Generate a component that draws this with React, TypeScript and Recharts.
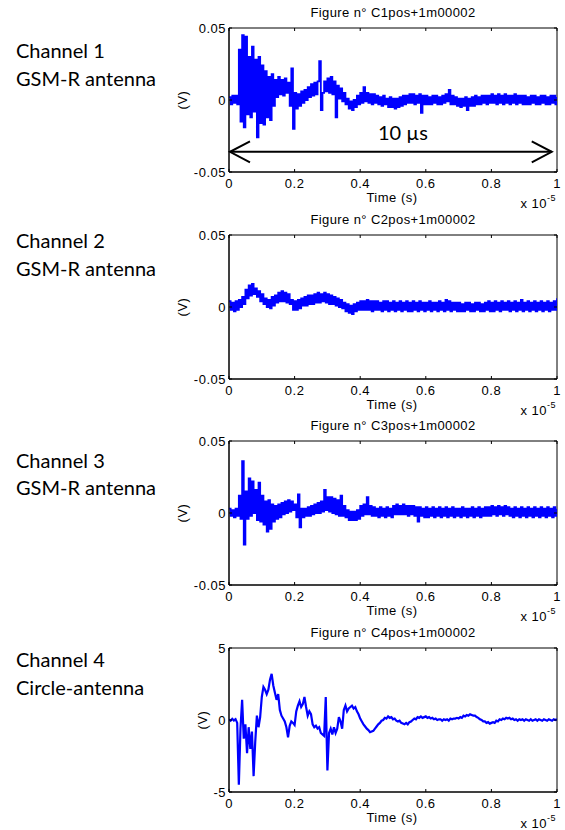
import React from 'react';
import { LineChart, Line, XAxis, YAxis, ReferenceLine, ReferenceArea } from 'recharts';

// time axis in units of 1e-5 s, one sample every TIME_STEP
const TIME_STEP = 0.005;
const X_TICKS = [0, 0.2, 0.4, 0.6, 0.8, 1];
const X_TICK_LABELS = ['0', '0.2', '0.4', '0.6', '0.8', '1'];
const Y_TICKS_SMALL = [-0.05, 0, 0.05];
const Y_TICK_LABELS_SMALL = ['-0.05', '0', '0.05'];
const Y_TICKS_LARGE = [-5, 0, 5];
const Y_TICK_LABELS_LARGE = ['-5', '0', '5'];

const TITLES = ['Figure n° C1pos+1m00002', 'Figure n° C2pos+1m00002', 'Figure n° C3pos+1m00002', 'Figure n° C4pos+1m00002'];
const CHANNEL_NAMES = ['Channel 1', 'Channel 2', 'Channel 3', 'Channel 4'];
const ANTENNA_NAMES = ['GSM-R antenna', 'GSM-R antenna', 'GSM-R antenna', 'Circle-antenna'];

const ARROW_SPAN = [0.003, 0.984];
const ARROW_LEVEL = -0.036;
const ARROW_TEXT = '10 µs';

const CH1_VOLTS = [
  .002,-.003,.003,-.002,.003,-.003,.035,-.015,.045,-.019,
  .044,-.010,.030,-.012,.037,-.008,.028,-.026,.030,-.016,
  .024,-.017,.020,-.012,.016,-.014,.018,-.004,.014,.002,
  .016,.004,.014,.003,.015,.005,.012,-.004,.022,-.020,
  .005,-.006,.004,-.004,.006,-.002,.007,.000,.009,.002,
  .011,.003,.012,.004,.013,.027,-.007,.005,.013,.006,
  .015,.005,.016,.004,.013,-.012,.010,.001,.008,-.001,
  .005,-.003,.001,-.006,-.001,-.007,.000,-.005,.003,-.003,
  .005,-.002,.009,-.001,.005,-.002,.004,-.003,.004,-.002,
  .003,-.003,.002,-.004,.003,-.003,.001,-.005,.002,-.005,
  .001,-.006,.001,-.005,.002,-.004,.003,-.003,.003,-.002,
  .004,-.002,.004,-.003,.003,-.002,.004,-.009,.003,-.003,
  .003,-.003,.002,-.003,.003,-.002,.003,-.003,.002,-.003,
  .003,-.002,.004,-.001,.007,-.003,.003,-.003,.002,-.004,
  .001,-.005,.001,-.004,.002,-.007,.001,-.004,.002,-.004,
  .003,-.003,.002,-.003,.003,-.002,.003,-.003,.003,-.002,
  .004,-.002,.003,-.003,.004,-.002,.003,-.003,.004,-.002,
  .003,-.003,.003,-.002,.004,-.003,.003,-.002,.003,-.003,
  .003,-.003,.002,-.003,.003,-.002,.003,-.003,.002,-.003,
  .003,-.002,.003,-.003,.002,-.003,.003,-.002,.003,-.003,.002,
];

const CH2_VOLTS = [
  .004,-.002,.003,-.003,.004,-.002,.005,.000,.007,.002,
  .012,.006,.015,.008,.016,.009,.013,.007,.011,.004,
  .009,.002,.006,.000,.005,-.001,.007,.001,.008,.003,
  .010,.004,.011,.004,.010,.003,.009,.002,.005,-.002,
  .004,-.002,.005,-.001,.006,.001,.007,.001,.008,.002,
  .008,.002,.009,.003,.010,.003,.009,.004,.010,.003,
  .009,.002,.008,.002,.007,.001,.006,.000,.005,-.001,
  .003,-.003,.002,-.004,.001,-.005,.002,-.003,.003,-.002,
  .004,-.002,.004,-.002,.005,-.002,.004,-.003,.004,-.002,
  .004,-.002,.003,-.003,.004,-.002,.004,-.003,.003,-.002,
  .004,-.003,.003,-.002,.004,-.003,.003,-.002,.004,-.003,
  .003,-.003,.004,-.002,.003,-.003,.004,-.002,.003,-.003,
  .003,-.002,.004,-.003,.003,-.002,.003,-.003,.004,-.002,
  .003,-.003,.005,-.002,.004,-.003,.003,-.002,.003,-.003,
  .003,-.003,.002,-.003,.003,-.002,.003,-.003,.002,-.003,
  .003,-.002,.003,-.003,.002,-.003,.003,-.002,.004,-.003,
  .003,-.003,.004,-.002,.003,-.003,.004,-.002,.003,-.002,
  .004,-.003,.003,-.002,.004,-.003,.003,-.002,.005,-.003,
  .003,-.002,.004,-.003,.003,-.002,.004,-.003,.003,-.002,
  .004,-.003,.003,-.002,.004,-.003,.003,-.002,.004,-.002,.006,
];

const CH3_VOLTS = [
  .003,-.002,.002,-.003,.003,-.002,.012,-.004,.036,-.022,
  .015,-.004,.024,-.002,.022,.000,.016,-.005,.021,-.006,
  .012,-.008,.008,-.013,.009,-.011,.006,-.006,.005,-.004,
  .006,-.003,.007,-.001,.008,.000,.009,.001,.008,.002,
  .006,-.003,.013,-.010,.003,-.003,.003,-.002,.004,-.002,
  .005,-.001,.006,.000,.007,.000,.008,.001,.016,.002,
  .011,.001,.011,.000,.010,-.001,.009,-.002,.012,-.002,
  .005,-.003,.002,-.005,.001,-.005,.001,-.005,.002,-.004,
  .005,-.002,.006,-.001,.011,-.001,.005,-.002,.004,-.002,
  .003,-.003,.004,-.002,.003,-.003,.004,-.002,.003,-.003,
  .005,-.001,.006,-.001,.005,-.001,.006,-.001,.005,-.002,
  .005,-.001,.005,-.002,.004,-.006,.004,-.002,.003,-.003,
  .004,-.003,.003,-.002,.004,-.003,.003,-.002,.004,-.003,
  .003,-.002,.004,-.003,.003,-.002,.004,-.003,.003,-.002,
  .003,-.003,.004,-.002,.003,-.003,.003,-.002,.004,-.003,
  .003,-.002,.004,-.003,.003,-.002,.004,-.002,.004,-.002,
  .005,-.001,.004,-.002,.005,-.001,.004,-.002,.005,-.001,
  .004,-.002,.003,-.003,.004,-.002,.003,-.003,.004,-.002,
  .003,-.003,.004,-.002,.003,-.003,.004,-.002,.003,-.003,
  .004,-.002,.003,-.003,.004,-.002,.003,-.003,.004,-.002,.003,
];

const CH4_VOLTS = [
  .05,-.05,.08,-.03,.06,-.2,-4.5,-.6,1.4,-1.3,
  -.3,-2.3,-.5,-2.0,-.8,-3.9,-1.5,.3,-.5,.2,
  1.6,2.3,2.1,1.8,2.1,2.8,3.2,2.4,1.9,1.4,
  1.8,.7,.3,.1,-.1,-.5,-1.2,-.4,-.1,-.2,
  -.35,.6,1.0,1.3,.9,1.1,1.6,.9,.3,.6,
  .4,-.3,-.5,-.4,-.6,-.5,-.9,-1.0,-1.1,1.6,
  -3.5,-.9,-.6,-1.0,-.5,-.9,-.6,.2,-.1,-.6,
  .7,1.0,.6,.8,.9,1.0,.8,.9,.6,.4,
  .1,-.1,-.3,-.45,-.6,-.7,-.85,-.8,-.75,-.6,
  -.45,-.3,-.2,-.05,.0,.15,.1,.25,.15,.2,
  .05,.1,-.05,-.1,-.05,-.2,-.25,-.3,-.2,-.3,
  -.15,-.1,.0,.1,.05,.2,.15,.25,.15,.2,
  .25,.15,.2,.1,.15,.05,.1,.0,.05,.05,
  -.05,.05,.0,.05,-.05,.1,.05,.1,.1,.15,
  .1,.2,.15,.3,.25,.35,.3,.4,.35,.3,
  .3,.2,.15,.05,.0,-.1,-.1,-.2,-.15,-.25,
  -.2,-.15,-.2,-.05,-.1,.05,.0,.1,.05,.15,
  .1,.15,.05,.1,.0,.05,-.05,.05,.0,.05,
  -.05,.05,.0,-.05,.05,-.05,.0,.05,-.05,.05,
  .0,-.05,.05,.0,-.05,.05,.0,-.05,.05,.0,.05,
];

const toSeries = (vals: number[]) => vals.map((v, i) => ({ t: i * TIME_STEP, v }));

const AXIS_FONT = 'Liberation Sans, Arial, Helvetica, sans-serif';
const LABEL_FONT = 'Lato, Calibri, sans-serif';
const tickStyle = { fontSize: 13, fontFamily: AXIS_FONT, fill: '#000', letterSpacing: 0.5 };
const noTickText = () => <g />;

const PANEL_TOPS = [0, 207, 413, 620];
const PLOT_T = 28;
const PLOT_B = 172;

const arrowShape = (p: any) => {
  const { x1, y1, x2, y2 } = p;
  return (
    <g>
      <line x1={x1} y1={y1} x2={x2} y2={y2} stroke="#000" strokeWidth={2} />
      <polyline points={`${x1 + 20},${y1 - 10.5} ${x1},${y1} ${x1 + 20},${y1 + 10.5}`} fill="none" stroke="#000" strokeWidth={2} />
      <polyline points={`${x2 - 20},${y2 - 10.5} ${x2},${y2} ${x2 - 20},${y2 + 10.5}`} fill="none" stroke="#000" strokeWidth={2} />
      <text x={(x1 + x2) / 2 + 12} y={y1 - 12} textAnchor="middle" fontFamily={LABEL_FONT} fontSize={20} fill="#000">{ARROW_TEXT}</text>
    </g>
  );
};

function Panel({ idx, vals, yTicks, yLabels, domain, arrow }: any) {
  const data = toSeries(vals);
  const noisy = idx !== 3;
  return (
    <div style={{ position: 'absolute', left: 0, top: PANEL_TOPS[idx], width: 565, height: 207 }}>
      <LineChart width={565} height={207} data={data} margin={{ top: PLOT_T - 1, right: 7, bottom: 5, left: 0 }}>
        <XAxis
          xAxisId="b"
          type="number"
          dataKey="t"
          domain={[0, 1]}
          ticks={X_TICKS}
          tickFormatter={(_v: any, i: number) => X_TICK_LABELS[i]}
          allowDataOverflow
          height={30}
          tickSize={-3}
          tickMargin={10}
          tick={tickStyle}
          axisLine={{ stroke: '#000' }}
          tickLine={{ stroke: '#000' }}
          interval={0}
        />
        <XAxis
          xAxisId="top"
          orientation="top"
          type="number"
          dataKey="t"
          domain={[0, 1]}
          ticks={X_TICKS}
          allowDataOverflow
          height={1}
          tickSize={-3}
          tick={noTickText}
          axisLine={false}
          tickLine={{ stroke: '#000' }}
          interval={0}
        />
        <YAxis
          yAxisId="l"
          type="number"
          domain={domain}
          ticks={yTicks}
          tickFormatter={(_v: any, i: number) => yLabels[i]}
          allowDataOverflow
          width={229}
          tickSize={-3}
          tickMargin={6}
          tick={tickStyle}
          axisLine={{ stroke: '#000' }}
          tickLine={{ stroke: '#000' }}
          interval={0}
        />
        <YAxis
          yAxisId="r"
          orientation="right"
          type="number"
          domain={domain}
          ticks={yTicks}
          allowDataOverflow
          width={1}
          tickSize={-3}
          tick={noTickText}
          axisLine={false}
          tickLine={{ stroke: '#000' }}
          interval={0}
        />
        <ReferenceArea
          xAxisId="b"
          yAxisId="l"
          x1={0}
          x2={1}
          y1={domain[0]}
          y2={domain[1]}
          fill="none"
          fillOpacity={0}
          stroke="#000"
          strokeWidth={1}
          ifOverflow="visible"
        />
        <Line
          xAxisId="b"
          yAxisId="l"
          type={noisy ? 'stepAfter' : 'linear'}
          dataKey="v"
          stroke="#0000ff"
          strokeWidth={noisy ? 1.8 : 2.2}
          dot={false}
          isAnimationActive={false}
        />
        {arrow && (
          <ReferenceLine
            xAxisId="b"
            yAxisId="l"
            segment={[{ x: ARROW_SPAN[0], y: ARROW_LEVEL }, { x: ARROW_SPAN[1], y: ARROW_LEVEL }]}
            shape={arrowShape}
          />
        )}
      </LineChart>
    </div>
  );
}

function Overlay() {
  const vLabelX = [187, 187, 187, 207];
  const chanBase = [[58, 86], [248, 276], [468, 495], [667, 695]];
  return (
    <svg width={565} height={830} style={{ position: 'absolute', left: 0, top: 0, pointerEvents: 'none' }}>
      {PANEL_TOPS.map((top, i) => {
        const T = top + PLOT_T;
        const B = top + PLOT_B;
        const mid = (T + B) / 2;
        return (
          <g key={i} fontFamily={AXIS_FONT} fill="#000">
            <text x={393} y={T - 11.5} textAnchor="middle" fontSize={13} letterSpacing={0.4}>{TITLES[i]}</text>
            <text x={392} y={B + 29.5} textAnchor="middle" fontSize={13} letterSpacing={0.5}>Time (s)</text>
            <text x={556} y={B + 36} textAnchor="end" fontSize={13} letterSpacing={0.5}>
              x 10<tspan dy={-7} fontSize={9}>-5</tspan>
            </text>
            <text x={vLabelX[i]} y={mid} textAnchor="middle" fontSize={13} letterSpacing={0.5} transform={`rotate(-90 ${vLabelX[i]} ${mid})`}>(V)</text>
            <text x={16} y={chanBase[i][0]} fontFamily={LABEL_FONT} fontSize={20}>{CHANNEL_NAMES[i]}</text>
            <text x={16} y={chanBase[i][1]} fontFamily={LABEL_FONT} fontSize={20}>{ANTENNA_NAMES[i]}</text>
          </g>
        );
      })}
    </svg>
  );
}

export default function App() {
  return (
    <div style={{ position: 'absolute', left: 0, top: 0, width: 565, height: 830, background: '#fff' }}>
      <Panel idx={0} vals={CH1_VOLTS} yTicks={Y_TICKS_SMALL} yLabels={Y_TICK_LABELS_SMALL} domain={[-0.05, 0.05]} arrow />
      <Panel idx={1} vals={CH2_VOLTS} yTicks={Y_TICKS_SMALL} yLabels={Y_TICK_LABELS_SMALL} domain={[-0.05, 0.05]} />
      <Panel idx={2} vals={CH3_VOLTS} yTicks={Y_TICKS_SMALL} yLabels={Y_TICK_LABELS_SMALL} domain={[-0.05, 0.05]} />
      <Panel idx={3} vals={CH4_VOLTS} yTicks={Y_TICKS_LARGE} yLabels={Y_TICK_LABELS_LARGE} domain={[-5, 5]} />
      <Overlay />
    </div>
  );
}
